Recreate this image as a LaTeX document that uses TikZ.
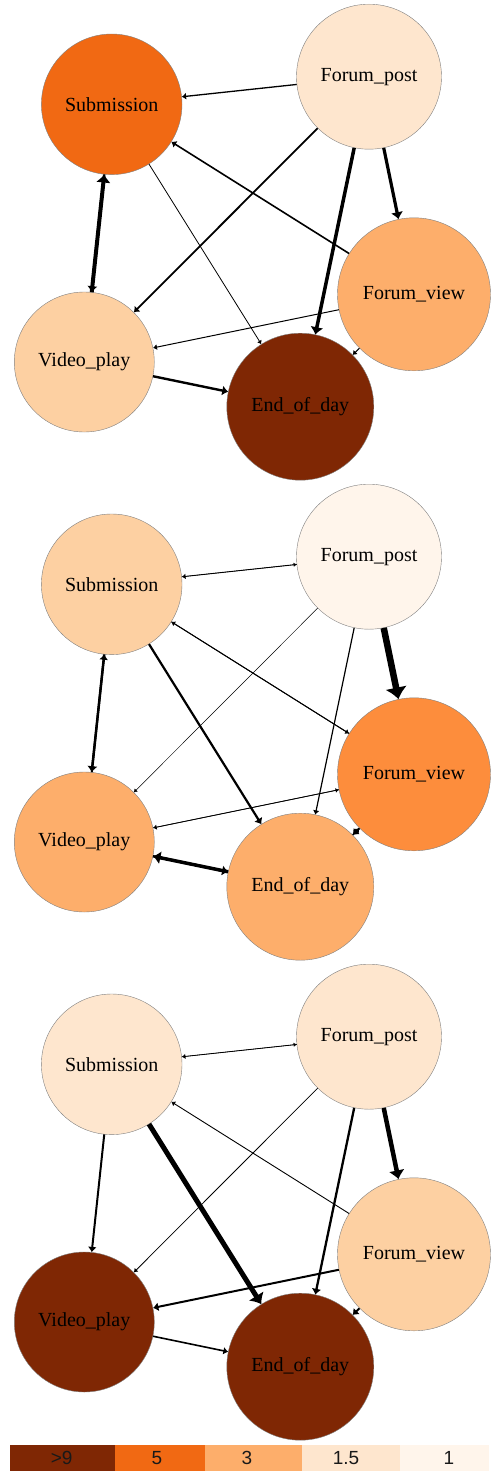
\documentclass[tikz,border=0pt]{standalone}
\usepackage{fontspec}
\setmainfont{Liberation Serif}
\newfontfamily\legfont{Liberation Sans}
\usetikzlibrary{arrows.meta}

% Oranges
\definecolor{or1}{HTML}{FFF5EB}
\definecolor{or2}{HTML}{FEE6CE}
\definecolor{or3}{HTML}{FDD0A2}
\definecolor{or4}{HTML}{FDAE6B}
\definecolor{or5}{HTML}{FD8D3C}
\definecolor{or6}{HTML}{F16913}
\definecolor{or9}{HTML}{7F2704}

\tikzset{
  state/.style={circle, draw=black!50, line width=0.4pt, inner sep=0pt,
    font=\fontsize{20}{24}\selectfont},
  flow/.style={line width=#1pt, -{Latex[length=2.5pt 1.4, width=3pt 3.0]}},
  keylabel/.style={font=\legfont\fontsize{19}{22}\selectfont, text=black!90}
}

% the five states of one panel
\newcommand{\placestates}[6]{%
  \node[state, minimum size=140.6pt, fill=#2] (sub#1) at (111.7,104.3) {Submission};
  \node[state, minimum size=145pt, fill=#3] (fp#1) at (369,76.7) {Forum\_post};
  \node[state, minimum size=153pt, fill=#4] (fv#1) at (414,294.3) {Forum\_view};
  \node[state, minimum size=140pt, fill=#5] (vp#1) at (84.3,362) {Video\_play};
  \node[state, minimum size=147pt, fill=#6] (eod#1) at (300.3,406.7) {End\_of\_day};
}

\begin{document}
\begin{tikzpicture}[x=1pt, y=-1pt]
  \useasboundingbox (0,0) rectangle (491,1472);

  % panel 1
  \placestates{1}{or6}{or2}{or4}{or3}{or9}
  \draw[flow=1.3] (fp1) -- (sub1);
  \draw[flow=1.8] (fp1) -- (vp1);
  \draw[flow=3.5] (fp1) -- (eod1);
  \draw[flow=3.2] (fp1) -- (fv1);
  \draw[flow=1.6] (fv1) -- (sub1);
  \draw[flow=1.0] (fv1) -- (vp1);
  \draw[flow=1.0] (fv1) -- (eod1);
  \draw[flow=0.8] (sub1) -- (eod1);
  \draw[flow=4.0] (vp1) -- (sub1);
  \draw[flow=2.5] (sub1) -- (vp1);
  \draw[flow=2.4] (vp1) -- (eod1);

  % panel 2
  \begin{scope}[yshift=-480pt]
    \placestates{2}{or3}{or1}{or5}{or4}{or4}
    \draw[flow=0.9] (fp2) -- (sub2);
    \draw[flow=0.4] (sub2) -- (fp2);
    \draw[flow=0.5] (fp2) -- (vp2);
    \draw[flow=1.2] (fp2) -- (eod2);
    \draw[flow=6.5] (fp2) -- (fv2);
    \draw[flow=0.9] (sub2) -- (fv2);
    \draw[flow=0.9] (fv2) -- (sub2);
    \draw[flow=2.2] (sub2) -- (eod2);
    \draw[flow=2.5] (sub2) -- (vp2);
    \draw[flow=2.0] (vp2) -- (sub2);
    \draw[flow=0.8] (fv2) -- (vp2);
    \draw[flow=0.6] (vp2) -- (fv2);
    \draw[flow=2.0] (fv2) -- (eod2);
    \draw[flow=1.5] (eod2) -- (fv2);
    \draw[flow=3.5] (eod2) -- (vp2);
    \draw[flow=2.5] (vp2) -- (eod2);
  \end{scope}

  % panel 3
  \begin{scope}[yshift=-960pt]
    \placestates{3}{or2}{or2}{or3}{or9}{or9}
    \draw[flow=0.8] (fp3) -- (sub3);
    \draw[flow=0.4] (sub3) -- (fp3);
    \draw[flow=0.8] (fp3) -- (vp3);
    \draw[flow=2.3] (fp3) -- (eod3);
    \draw[flow=4.5] (fp3) -- (fv3);
    \draw[flow=0.9] (fv3) -- (sub3);
    \draw[flow=2.0] (sub3) -- (vp3);
    \draw[flow=5.0] (sub3) -- (eod3);
    \draw[flow=2.0] (fv3) -- (vp3);
    \draw[flow=2.0] (fv3) -- (eod3);
    \draw[flow=1.6] (vp3) -- (eod3);
  \end{scope}

  % colour key
  \foreach \lab/\col/\xa/\xb/\xt [count=\k] in
    {{>9}/or9/10/115/61.7, 5/or6/115/204.7/157, 3/or4/204.7/302/247,
     1.5/or2/302/400/346, 1/or1/400/489/449}
  {
    \fill[\col] (\xa,1445) rectangle (\xb,1471);
    \node[keylabel] (key\k) at (\xt,1458) {\lab};
  }
\end{tikzpicture}
\end{document}
